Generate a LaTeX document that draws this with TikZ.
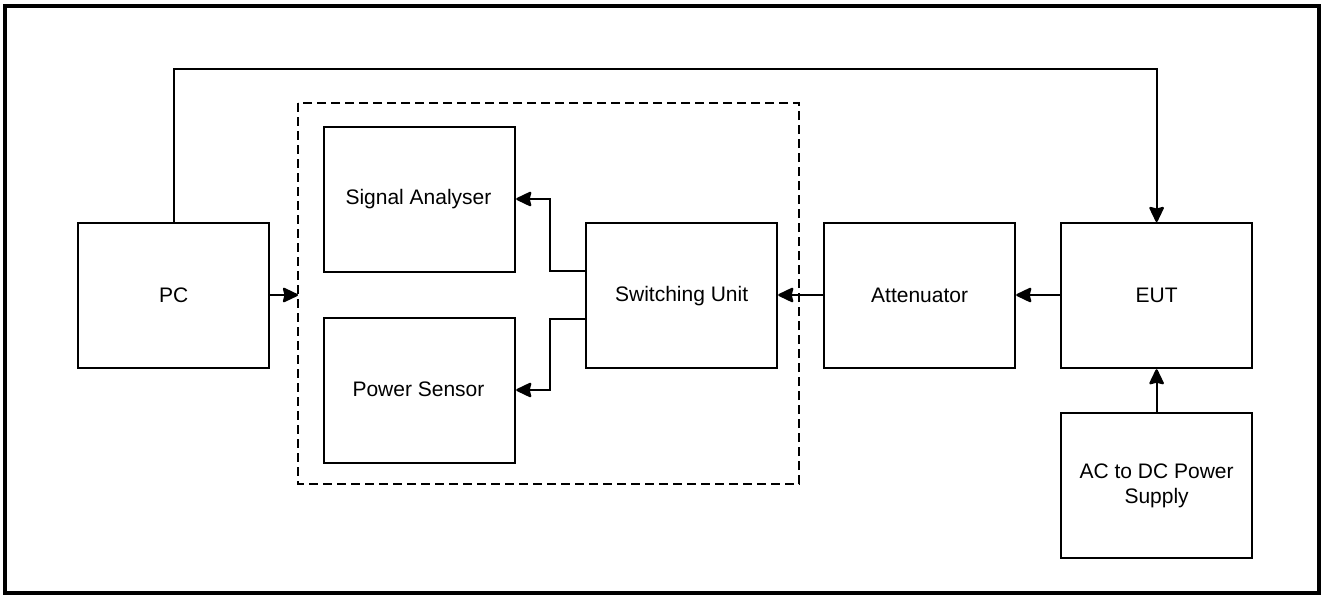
\documentclass[tikz,border=0pt]{standalone}
\usepackage{fontspec}
\setmainfont{Liberation Sans}
\usetikzlibrary{arrows.meta}
\begin{document}
\begin{tikzpicture}[x=1pt,y=-1pt,
  blk/.style={draw,line width=2.2pt,minimum width=191pt,minimum height=145pt,inner sep=0pt,align=center,font=\fontsize{21}{25}\selectfont,anchor=north west},
  lbl/.style={font=\fontsize{21}{25}\selectfont},
  arr/.style={line width=2.2pt,-{Stealth[length=17pt,width=16pt,inset=2pt,round=false]}}]
\useasboundingbox (0,0) rectangle (1322,595);
\draw[line width=4pt] (5,6) rectangle (1319,593);
\draw[line width=2.2pt,dash pattern=on 9pt off 5pt] (298,103) rectangle (799,484);
\node[blk] (pc) at (77,222) {PC};
\node[blk] (sa) at (323,126) {};
\node[lbl] (satext) at (418.5,199) {Signal Analyser};
\node[blk] (ps) at (323,317) {};
\node[lbl] (pstext) at (418.5,389) {Power Sensor};
\node[blk] (su) at (585,222) {Switching Unit};
\node[blk] (att) at (823,222) {Attenuator};
\node[blk] (eut) at (1060,222) {EUT};
\node[blk] (ac) at (1060,412) {AC to DC Power\\Supply};
\coordinate (dl) at (298,295);
\draw[arr] (pc.east |- dl) -- (dl);
\draw[arr] (pc.north) -- (pc.north |- 0,69) -- (eut.north |- 0,69) -- (eut.north);
\draw[arr] (su.west |- 0,271) -- (550,271) -- (550,199) -- (sa.east |- 0,199);
\draw[arr] (su.west |- 0,319) -- (550,319) -- (550,390) -- (ps.east |- 0,390);
\draw[arr] (att.west |- dl) -- (su.east |- dl);
\draw[arr] (eut.west |- dl) -- (att.east |- dl);
\draw[arr] (ac.north) -- (eut.south);
\end{tikzpicture}
\end{document}
